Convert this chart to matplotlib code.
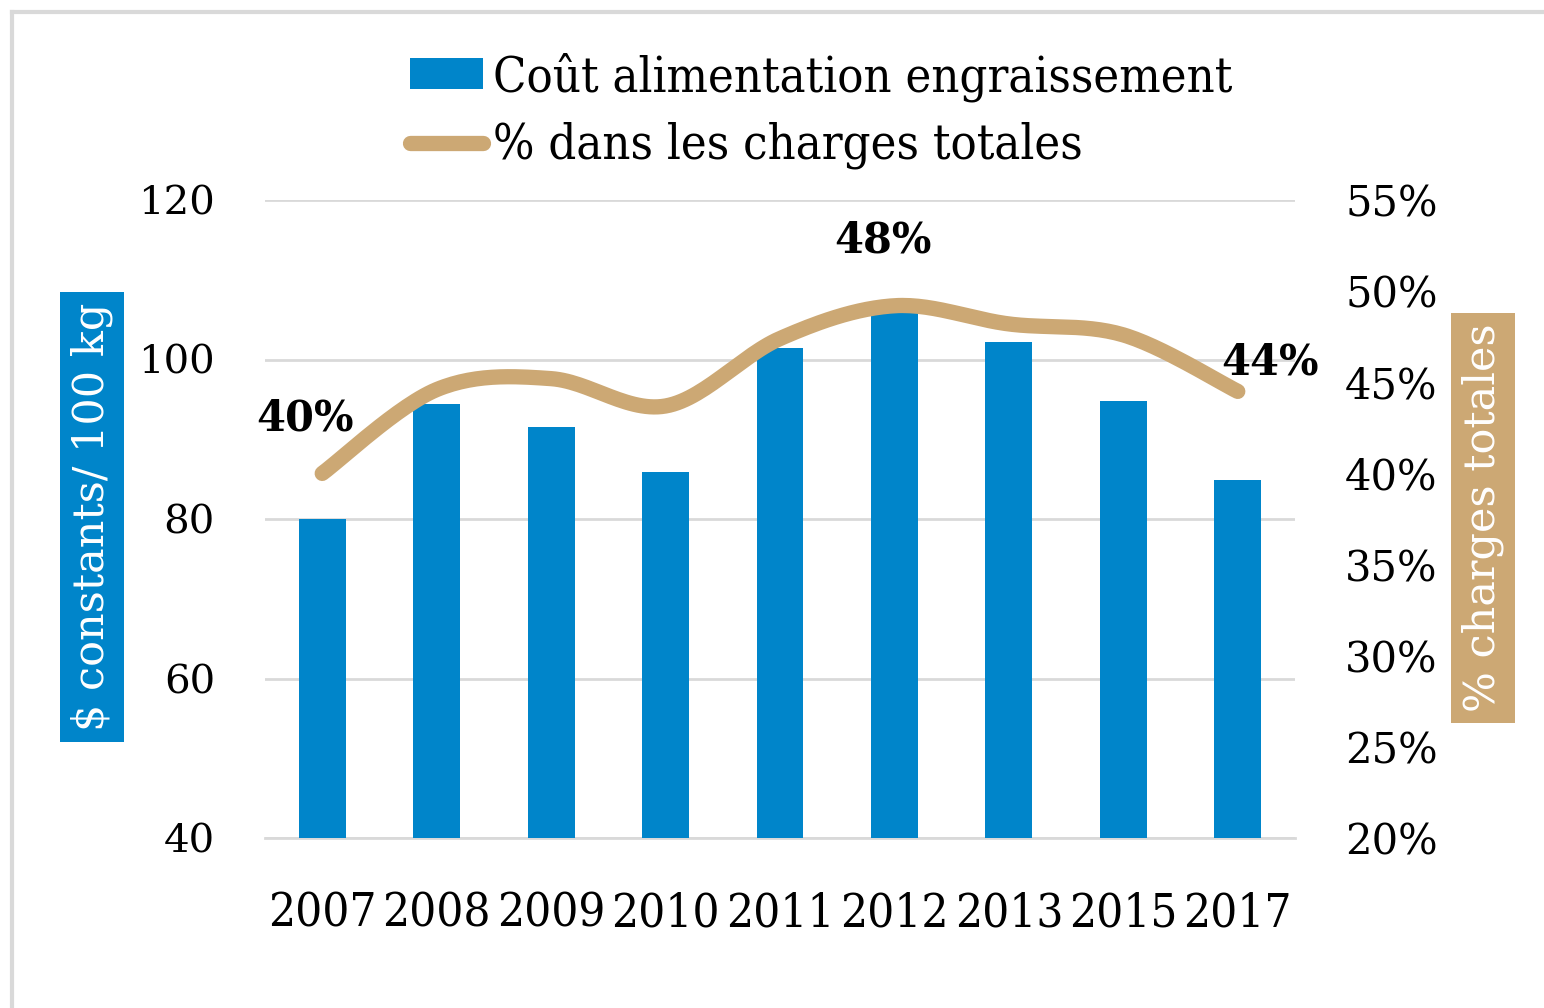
import numpy as np
import matplotlib
matplotlib.use("Agg")
import matplotlib.pyplot as plt
from matplotlib.patches import Patch
from matplotlib.lines import Line2D

years = ['2007', '2008', '2009', '2010', '2011', '2012', '2013', '2015', '2017']
cout = [80.0, 94.4, 91.5, 85.9, 101.5, 106.0, 102.2, 94.8, 84.9]
pct = [40.0, 44.6, 45.2, 43.7, 47.4, 49.2, 48.2, 47.6, 44.5]
labels_pts = {0: '40%', 5: '48%', 8: '44%'}

BLUE = '#0085CA'
TAN = '#CCA874'
GRID = '#D9D9D9'

plt.rcParams['font.family'] = ['DejaVu Serif']


def catmull_rom(x, y, n=30):
    # smooth curve through the points, like Excel's smoothed line
    x = np.asarray(x, float)
    y = np.asarray(y, float)
    px = np.concatenate([[x[0]], x, [x[-1]]])
    py = np.concatenate([[y[0]], y, [y[-1]]])
    xs, ys = [], []
    for i in range(1, len(px) - 2):
        t = np.linspace(0, 1, n)
        for arr, out in ((px, xs), (py, ys)):
            p0, p1, p2, p3 = arr[i - 1], arr[i], arr[i + 1], arr[i + 2]
            out.extend(0.5 * (2 * p1 + (-p0 + p2) * t
                              + (2 * p0 - 5 * p1 + 4 * p2 - p3) * t ** 2
                              + (-p0 + 3 * p1 - 3 * p2 + p3) * t ** 3))
    return np.array(xs), np.array(ys)


fig = plt.figure(figsize=(15.44, 10.08), dpi=100)
ax = fig.add_axes([265 / 1544, 1 - 838 / 1008, 1030 / 1544, 638 / 1008])
ax2 = ax.twinx()

x = np.arange(len(years))
ax.bar(x, cout, width=0.41, color=BLUE, zorder=3)
ax.set_ylim(40, 120)
ax.set_yticks([40, 60, 80, 100, 120])
ax.set_xlim(-0.5, len(years) - 0.5)
ax.set_xticks(x)
ax.set_xticklabels(years, fontsize=34, fontstretch='condensed')
ax.grid(axis='y', color=GRID, linewidth=2, zorder=0)
ax.set_axisbelow(True)
ax.tick_params(axis='y', labelsize=29, length=0, pad=36)
ax.tick_params(axis='x', length=0, pad=38)
for s in ['top', 'right', 'left']:
    ax.spines[s].set_visible(False)
ax.spines['bottom'].set_color(GRID)
ax.spines['bottom'].set_linewidth(2)

sx, sy = catmull_rom(x, pct)
ax2.plot(sx, sy, color=TAN, linewidth=11, solid_capstyle='round', zorder=4)
ax2.set_ylim(20, 55)
ax2.set_yticks(range(20, 56, 5))
ax2.set_yticklabels([f'{v}%' for v in range(20, 56, 5)])
ax2.tick_params(axis='y', labelsize=30, length=0, pad=36)
for s in ax2.spines.values():
    s.set_visible(False)

offsets = {0: (-0.15, 3.0), 5: (-0.1, 3.6), 8: (0.28, 1.6)}
for i, txt in labels_pts.items():
    dx, dy = offsets[i]
    ax2.text(x[i] + dx, pct[i] + dy, txt, fontsize=30, fontweight='bold',
             ha='center', va='center', zorder=5)

fig.text(92 / 1544, 1 - 517 / 1008, '$ constants/ 100 kg', rotation=90,
         color='white', fontsize=31, ha='center', va='center',
         bbox=dict(boxstyle='square,pad=0.25', facecolor=BLUE, edgecolor='none'))
fig.text(1483 / 1544, 1 - 518 / 1008, '% charges totales', rotation=90,
         color='white', fontsize=31, ha='center', va='center',
         bbox=dict(boxstyle='square,pad=0.25', facecolor=TAN, edgecolor='none'))

handles = [Patch(facecolor=BLUE, edgecolor='none'),
           Line2D([0], [0], color=TAN, linewidth=11, solid_capstyle='round')]
fig.legend(handles, ['Coût alimentation engraissement', '% dans les charges totales'],
           loc='upper left', bbox_to_anchor=(376 / 1544, 1 - 18 / 1008),
           frameon=False, handlelength=1.5, handleheight=0.6,
           handletextpad=0.2, labelspacing=0.42, borderpad=0.2,
           prop={'stretch': 'condensed', 'size': 35})

# outer frame (left and top edges only visible)
fig.add_artist(Line2D([12 / 1544, 12 / 1544], [0, 1 - 12 / 1008], color='#D9D9D9',
                      linewidth=3, transform=fig.transFigure))
fig.add_artist(Line2D([12 / 1544, 1], [1 - 12 / 1008, 1 - 12 / 1008], color='#D9D9D9',
                      linewidth=3, transform=fig.transFigure))

fig.savefig('out.png', dpi=100)
